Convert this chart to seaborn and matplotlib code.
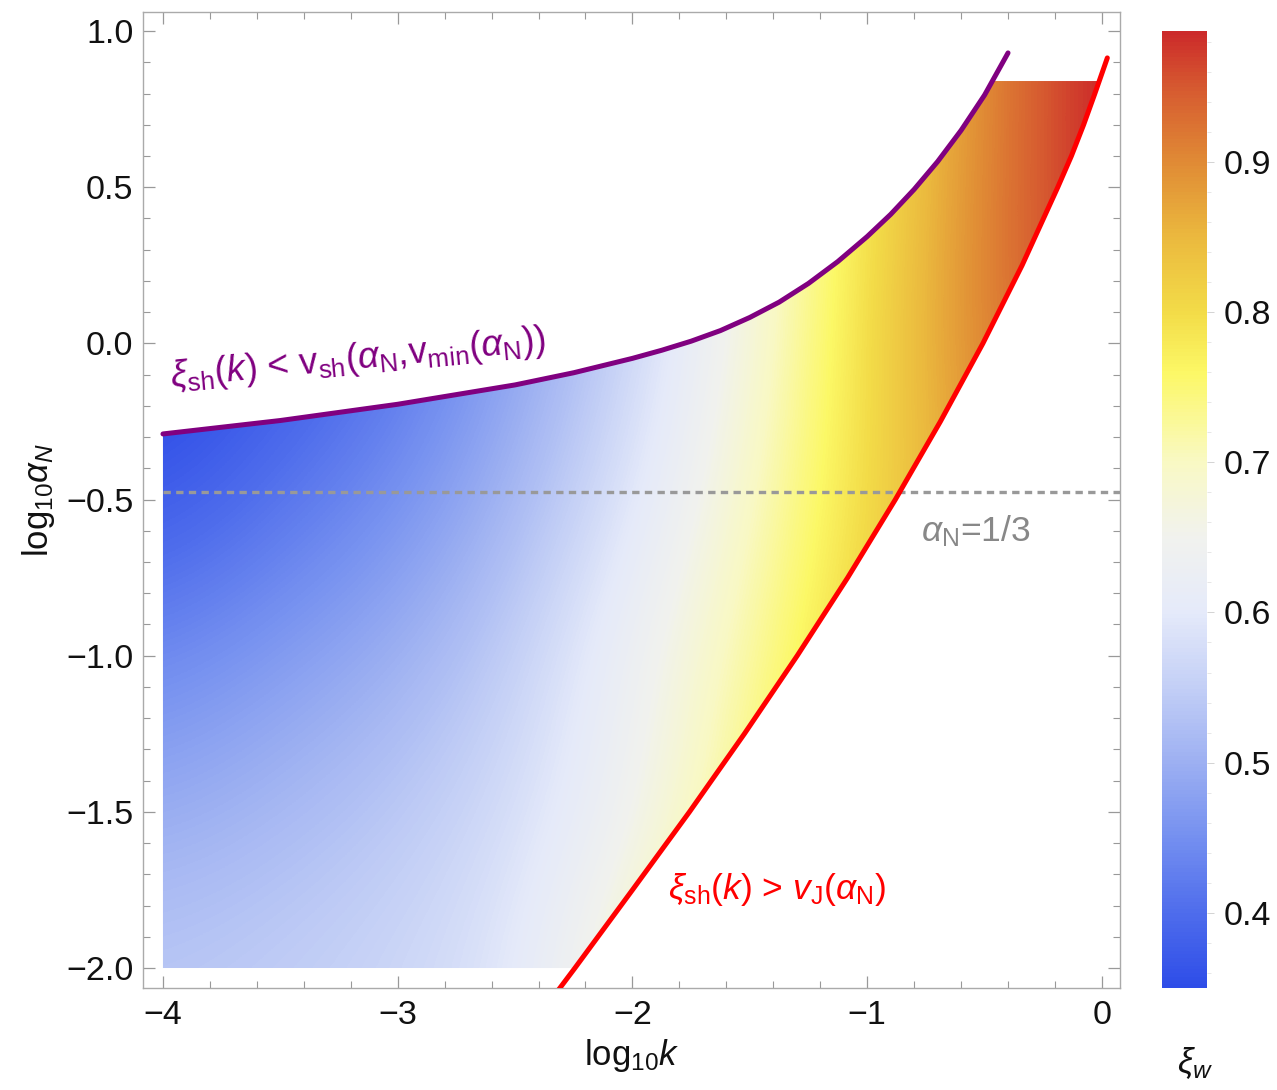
import numpy as np
import matplotlib
matplotlib.use("Agg")
import matplotlib.pyplot as plt
import seaborn as sns
from matplotlib.colors import LinearSegmentedColormap, Normalize
from matplotlib.patches import Polygon
from matplotlib.cm import ScalarMappable
from matplotlib.ticker import MultipleLocator, FuncFormatter

# ---------------- data ----------------
k_grid = [-4.0, -3.5, -3.0, -2.5, -2.0, -1.5, -1.0, -0.5, 0.0]          # log10 k
alpha_grid = [-2.0, -1.5, -1.0, -0.5, 0.0, 0.5, 1.0]                  # log10 alpha_N
xi_row_m20 = [0.54, 0.55, 0.565, 0.595, 0.70, 0.78, 0.86, 0.93, 0.99]
xi_row_m15 = [0.495, 0.515, 0.54, 0.575, 0.64, 0.745, 0.84, 0.92, 0.98]
xi_row_m10 = [0.44, 0.47, 0.50, 0.55, 0.635, 0.72, 0.82, 0.90, 0.97]
xi_row_m05 = [0.37, 0.41, 0.45, 0.51, 0.59, 0.695, 0.80, 0.89, 0.96]
xi_row_p00 = [0.33, 0.37, 0.41, 0.48, 0.56, 0.67, 0.80, 0.91, 0.985]
xi_row_p05 = [0.31, 0.35, 0.39, 0.46, 0.545, 0.66, 0.79, 0.905, 1.0]
xi_row_p10 = [0.30, 0.34, 0.38, 0.45, 0.54, 0.655, 0.785, 0.90, 1.0]

# upper boundary: xi_sh(k) < v_sh(alpha_N, v_min(alpha_N))
upper_k = [-4.0, -3.5, -3.0, -2.5, -2.25, -2.0, -1.875, -1.75, -1.625, -1.5, -1.375,
           -1.25, -1.125, -1.0, -0.9, -0.8, -0.7, -0.6, -0.5, -0.4]
upper_alpha = [-0.29, -0.247, -0.195, -0.133, -0.094, -0.048, -0.022, 0.007, 0.041, 0.083,
               0.132, 0.192, 0.262, 0.342, 0.413, 0.493, 0.582, 0.682, 0.795, 0.93]

# lower boundary: xi_sh(k) > v_J(alpha_N)
lower_k = [-2.335, -2.245, -2.0, -1.757, -1.523, -1.298, -1.083, -0.88, -0.688, -0.507,
           -0.34, -0.188, -0.13, -0.078, -0.03, 0.023]
lower_alpha = [-2.09, -2.0, -1.75, -1.5, -1.25, -1.0, -0.75, -0.5, -0.25, 0.0,
               0.25, 0.5, 0.6, 0.7, 0.8, 0.914]

k_min = -4.0
alpha_min = -2.0
alpha_fill_max = 0.84
alpha_third = np.log10(1.0 / 3.0)

# colour scale of xi_w
xi_min, xi_max = 0.35, 0.987
cmap_values = [0.35, 0.40, 0.45, 0.50, 0.55, 0.60, 0.65, 0.70, 0.76, 0.80, 0.85, 0.90, 0.95, 0.987]
cmap_colors = ["#2E4DE8", "#4F6DEC", "#7590F0", "#9DB0F2", "#C3CFF6", "#E5EAFA", "#F1F2EE",
               "#F9F9C4", "#FCF866", "#F3DC48", "#EBB93E", "#E08B35", "#D65A30", "#CC2A2A"]
cbar_ticks = [0.4, 0.5, 0.6, 0.7, 0.8, 0.9]

# ---------------- style ----------------
sns.set_theme(style="ticks")
plt.rcParams['font.family'] = ['Liberation Sans', 'DejaVu Sans']
plt.rcParams['mathtext.fontset'] = 'custom'
plt.rcParams['mathtext.rm'] = 'Liberation Sans'
plt.rcParams['mathtext.it'] = 'Liberation Sans:italic'
plt.rcParams['mathtext.bf'] = 'Liberation Sans:bold'
plt.rcParams['mathtext.sf'] = 'Liberation Sans'

W, H = 1277, 1090
fig = plt.figure(figsize=(W / 100, H / 100), dpi=100)
ax = fig.add_axes([143 / W, (H - 988) / H, (1120 - 143) / W, (988 - 12) / H])
cax = fig.add_axes([1162 / W, (H - 988) / H, 45 / W, (988 - 31) / H])

xlim = (-4.085, 0.077)
ylim = (-2.064, 1.061)

cmap = LinearSegmentedColormap.from_list(
    "xiw", [((v - xi_min) / (xi_max - xi_min), c) for v, c in zip(cmap_values, cmap_colors)])
norm = Normalize(vmin=xi_min, vmax=xi_max)

# ---------------- density field clipped to the allowed region ----------------
xi_field = np.array([xi_row_m20, xi_row_m15, xi_row_m10, xi_row_m05,
                     xi_row_p00, xi_row_p05, xi_row_p10])
dk = k_grid[1] - k_grid[0]
da = alpha_grid[1] - alpha_grid[0]
im = ax.imshow(xi_field, origin="lower", cmap=cmap, norm=norm, interpolation="bicubic",
               extent=[k_grid[0] - dk / 2, k_grid[-1] + dk / 2,
                       alpha_grid[0] - da / 2, alpha_grid[-1] + da / 2],
               aspect="auto", zorder=1)

k_top_left = np.interp(alpha_fill_max, upper_alpha, upper_k)
k_top_right = np.interp(alpha_fill_max, lower_alpha, lower_k)
k_bottom_right = np.interp(alpha_min, lower_alpha, lower_k)
verts = [(k_min, alpha_min), (k_min, upper_alpha[0])]
verts += [(k, a) for k, a in zip(upper_k, upper_alpha) if a < alpha_fill_max]
verts += [(k_top_left, alpha_fill_max), (k_top_right, alpha_fill_max)]
verts += [(k, a) for k, a in zip(lower_k[::-1], lower_alpha[::-1]) if alpha_min < a < alpha_fill_max]
verts += [(k_bottom_right, alpha_min)]
region = Polygon(verts, closed=True, transform=ax.transData, facecolor="none", edgecolor="none")
ax.add_patch(region)
im.set_clip_path(region)

# ---------------- boundary curves ----------------
sns.lineplot(x=upper_k, y=upper_alpha, ax=ax, color="#800080", linewidth=3.6,
             sort=False, estimator=None, zorder=4)
sns.lineplot(x=lower_k, y=lower_alpha, ax=ax, color="#FF0000", linewidth=3.6,
             sort=False, estimator=None, zorder=4)
ax.hlines(alpha_third, k_min, xlim[1], colors="#999999", linestyles=(0, (2.2, 1.6)),
          linewidth=2.4, zorder=3)

# ---------------- annotations ----------------
ax.text(-3.17, -0.05,
        r"$\xi_{\mathrm{sh}}(k)$ < v$_{\mathrm{sh}}$($\alpha_{\mathrm{N}}$,v$_{\mathrm{min}}$($\alpha_{\mathrm{N}}$))",
        color="#800080", fontsize=26.5, rotation=5.6, rotation_mode="anchor",
        ha="center", va="center", zorder=5)
ax.text(-1.85, -1.75, r"$\xi_{\mathrm{sh}}(k)$ > $v_{\mathrm{J}}(\alpha_{\mathrm{N}})$",
        color="#FF0000", fontsize=25.5, ha="left", va="center", zorder=5)
ax.text(-0.54, -0.60, r"$\alpha_{\mathrm{N}}$=1/3", color="#888888", fontsize=25.5,
        ha="center", va="center", zorder=5)

# ---------------- axes styling ----------------
minus = "\u2212"
ax.set_xlim(*xlim)
ax.set_ylim(*ylim)
ax.xaxis.set_major_locator(MultipleLocator(1.0))
ax.xaxis.set_minor_locator(MultipleLocator(0.2))
ax.yaxis.set_major_locator(MultipleLocator(0.5))
ax.yaxis.set_minor_locator(MultipleLocator(0.1))
ax.xaxis.set_major_formatter(FuncFormatter(lambda v, p: f"{v:.0f}".replace("-", minus)))
ax.yaxis.set_major_formatter(FuncFormatter(lambda v, p: f"{v:.1f}".replace("-", minus)))
ax.tick_params(which="both", direction="in", top=True, right=True, color="#999999",
               labelsize=24.5, labelcolor="#111111")
ax.tick_params(which="major", length=8.5, width=0.9)
ax.tick_params(which="minor", length=5, width=0.8)
ax.tick_params(axis="y", which="major", pad=7)
ax.tick_params(axis="x", which="major", pad=9)
for sp in ax.spines.values():
    sp.set_color("#AAAAAA")
    sp.set_linewidth(1.0)
ax.set_xlabel(r"$\mathrm{log}_{10}k$", fontsize=25, color="#111111")
ax.set_ylabel(r"$\mathrm{log}_{10}\alpha_N$", fontsize=25, color="#111111")
ax.xaxis.set_label_coords(0.5, -0.05)
ax.yaxis.set_label_coords(-0.088, 0.5)

# ---------------- colour bar ----------------
cb = fig.colorbar(ScalarMappable(norm=norm, cmap=cmap), cax=cax, ticks=cbar_ticks)
cb.outline.set_visible(False)
cb.ax.yaxis.set_minor_locator(MultipleLocator(0.02))
cb.ax.tick_params(which="major", length=5, width=0.6, color="#CCCCCC", labelsize=24.5,
                  labelcolor="#111111", pad=7)
cb.ax.tick_params(which="minor", length=3, width=0.5, color="#DDDDDD")
cb.ax.yaxis.set_major_formatter(FuncFormatter(lambda v, p: f"{v:.1f}"))
fig.text(1195 / W, (H - 1063) / H, r"$\xi_w$", fontsize=25, ha="center", va="center",
         color="#111111")

fig.savefig("out.png", dpi=100)
